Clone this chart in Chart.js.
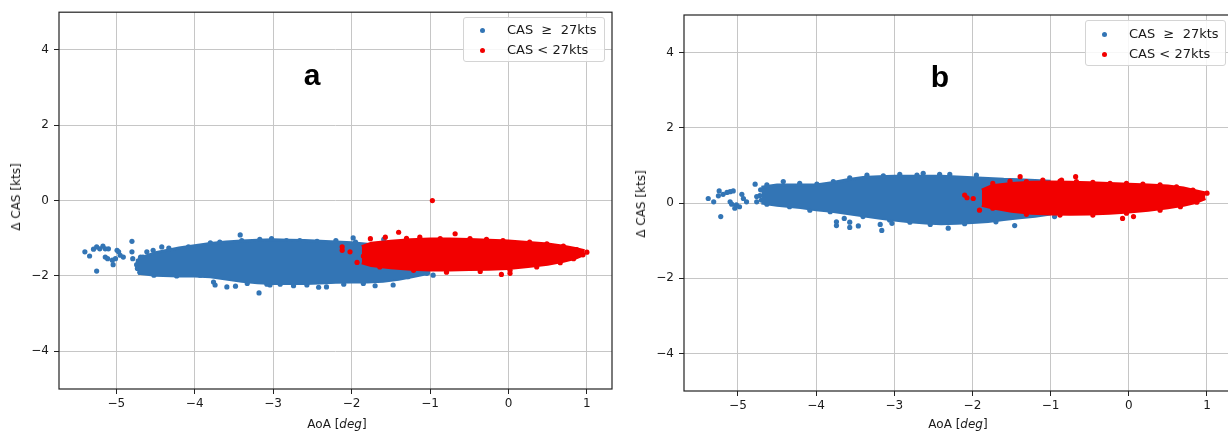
<!DOCTYPE html>
<html>
<head>
<meta charset="utf-8">
<script src="https://cdn.jsdelivr.net/npm/chart.js@4"></script>
<style>
  body { margin: 0; width: 1228px; height: 432px; overflow: hidden; background: #fff; position: relative; }
  .panel { position: absolute; top: 0; width: 620px; height: 432px; }
  .txt { position: absolute; font-family: "DejaVu Sans", sans-serif; color: #1a1a1a; white-space: nowrap; }
  .ytitle { font-size: 12px; transform: translate(-50%, -50%) rotate(-90deg); }
  .xtitle { font-size: 12px; transform: translateX(-50%); line-height: 14px; }
  .letter { font-family: "Liberation Sans", Arial, sans-serif; font-weight: bold; font-size: 30px; line-height: 30px; transform: translateX(-50%); color: #000; }
  .legend { position: absolute; border: 1px solid #d4d4d4; border-radius: 3px; background: rgba(255,255,255,0.85);
            font-family: "DejaVu Sans", sans-serif; font-size: 13px; color: #1a1a1a; box-sizing: border-box; }
  .legend div { position: absolute; left: 43px; line-height: 15px; white-space: pre; }
  .legend span { position: absolute; left: 16px; width: 5px; height: 5px; border-radius: 50%; }
</style>
</head>
<body>
<div class="panel" style="left:0"><canvas id="chartA" width="620" height="432"></canvas></div>
<div class="panel" style="left:620px"><canvas id="chartB" width="620" height="432"></canvas></div>

<div class="txt ytitle" style="left:16px; top:197px">Δ CAS [kts]</div>
<div class="txt ytitle" style="left:641px; top:204px">Δ CAS [kts]</div>
<div class="txt xtitle" style="left:337px; top:417px">AoA [<i>deg</i>]</div>
<div class="txt xtitle" style="left:958px; top:417px">AoA [<i>deg</i>]</div>
<div class="txt letter" style="left:312px; top:60px">a</div>
<div class="txt letter" style="left:940px; top:62px">b</div>

<div class="legend" style="left:463px; top:17px; width:142px; height:45px">
  <span style="top:10px; background:#3375b5"></span><div style="top:4px">CAS  ≥  27kts</div>
  <span style="top:30px; background:#f20000"></span><div style="top:24px">CAS &lt; 27kts</div>
</div>
<div class="legend" style="left:1085px; top:20px; width:141px; height:46px">
  <span style="top:11px; background:#3375b5"></span><div style="top:5px">CAS  ≥  27kts</div>
  <span style="top:31px; background:#f20000"></span><div style="top:25px">CAS &lt; 27kts</div>
</div>

<script>
// axis ticks
const xTicks = [-5, -4, -3, -2, -1, 0, 1];
const yTicks = [-4, -2, 0, 2, 4];
const seriesNames = ['CAS \u2265 27kts', 'CAS < 27kts'];

// panel a - dense cloud outlines (top / bottom edge of the point cloud)
const aBlueEdgeX = [-4.72, -4.5, -4.2, -4.0, -3.8, -3.6, -3.4, -3.2, -3.0, -2.8, -2.6, -2.4, -2.2, -2.0, -1.8, -1.6, -1.4, -1.2, -1.0];
const aBlueTop   = [-1.54, -1.38, -1.26, -1.20, -1.14, -1.10, -1.07, -1.05, -1.04, -1.05, -1.06, -1.08, -1.10, -1.12, -1.16, -1.21, -1.26, -1.36, -1.52];
const aBlueBot   = [-1.93, -1.98, -2.00, -2.00, -2.02, -2.08, -2.14, -2.18, -2.20, -2.20, -2.20, -2.19, -2.17, -2.16, -2.16, -2.14, -2.09, -2.01, -1.92];
const aRedEdgeX  = [-1.87, -1.75, -1.5, -1.25, -1.0, -0.75, -0.5, -0.25, 0.0, 0.25, 0.5, 0.7, 0.85, 0.97];
const aRedTop    = [-1.22, -1.13, -1.08, -1.04, -1.02, -1.02, -1.03, -1.05, -1.07, -1.11, -1.15, -1.21, -1.27, -1.33];
const aRedBot    = [-1.65, -1.72, -1.78, -1.82, -1.84, -1.84, -1.83, -1.82, -1.80, -1.75, -1.69, -1.61, -1.53, -1.43];

// panel a - single points (outliers and the ragged cloud edge)
const aBlueX = [-5.40, -5.34, -5.29, -5.25, -5.21, -5.17, -5.14, -5.10, -5.14, -5.11, -5.05, -5.04, -5.01, -4.99, -4.97, -4.95, -4.91,
                -4.80, -4.80, -4.79, -4.69, -4.61, -4.53, -4.42, -4.33, -5.25, -3.76, -3.74, -3.59, -3.48, -3.18, -3.04, -2.42, -2.32,
                -3.42, -3.02, -1.98, -1.59, -1.28, -1.04, -0.96, -1.47, -1.70,
                -4.08, -3.80, -3.68, -3.40, -3.17, -2.83, -2.66, -2.44, -2.20, -1.95,
                -4.52, -4.23, -3.93, -3.42, -3.33, -3.08, -2.91, -2.74, -2.57, -2.10, -1.85,
                -4.72, -4.74, -4.73, -4.70, -4.66];
const aBlueY = [-1.36, -1.47, -1.29, -1.23, -1.28, -1.21, -1.28, -1.28, -1.50, -1.54, -1.58, -1.70, -1.54, -1.32, -1.36, -1.45, -1.50,
                -1.08, -1.36, -1.54, -1.50, -1.36, -1.32, -1.23, -1.26, -1.87, -2.16, -2.24, -2.29, -2.27, -2.45, -2.24, -2.30, -2.29,
                -0.91, -1.01, -0.99, -1.03, -2.02, -1.93, -1.98, -2.24, -2.26,
                -1.23, -1.12, -1.10, -1.06, -1.03, -1.06, -1.06, -1.08, -1.06, -1.10,
                -1.98, -2.00, -1.98, -2.07, -2.20, -2.22, -2.22, -2.26, -2.24, -2.22, -2.20,
                -1.60, -1.70, -1.80, -1.90, -1.50];
const aRedX = [-1.40, -0.68, -2.12, -2.12, -2.02, -1.93, -1.85, -0.09, 0.02, -0.97,
               -1.76, -1.57, -1.30, -1.13, -0.87, -0.49, -0.28, -0.07, 0.27, 0.49, 0.70, 0.87,
               -1.64, -1.21, -0.79, -0.36, 0.02, 0.36, 0.66, 0.83, 0.95, 1.00];
const aRedY = [-0.84, -0.88, -1.23, -1.32, -1.36, -1.64, -1.47, -1.96, -1.93, 0.00,
               -1.01, -0.97, -1.00, -0.97, -1.01, -1.01, -1.03, -1.06, -1.10, -1.15, -1.21, -1.30,
               -1.76, -1.85, -1.90, -1.88, -1.85, -1.76, -1.65, -1.54, -1.44, -1.37];

// panel b - dense cloud outlines
const bBlueEdgeX = [-4.7, -4.5, -4.2, -4.0, -3.8, -3.6, -3.4, -3.2, -3.0, -2.8, -2.6, -2.4, -2.2, -2.0, -1.8, -1.6, -1.4, -1.2, -1.0];
const bBlueTop   = [0.42, 0.48, 0.48, 0.48, 0.54, 0.62, 0.68, 0.70, 0.71, 0.71, 0.71, 0.71, 0.69, 0.67, 0.65, 0.63, 0.62, 0.60, 0.58];
const bBlueBot   = [0.00, -0.06, -0.12, -0.18, -0.22, -0.28, -0.34, -0.40, -0.45, -0.50, -0.53, -0.55, -0.54, -0.52, -0.49, -0.44, -0.39, -0.35, -0.29];
const bRedEdgeX  = [-1.88, -1.75, -1.5, -1.25, -1.0, -0.75, -0.5, -0.25, 0.0, 0.25, 0.5, 0.7, 0.85, 0.98];
const bRedTop    = [0.34, 0.46, 0.52, 0.55, 0.56, 0.55, 0.54, 0.52, 0.50, 0.48, 0.45, 0.40, 0.33, 0.27];
const bRedBot    = [-0.06, -0.13, -0.22, -0.27, -0.29, -0.30, -0.29, -0.27, -0.24, -0.19, -0.13, -0.06, 0.01, 0.12];

// panel b - single points
const bBlueX = [-5.38, -5.31, -5.24, -5.25, -5.19, -5.14, -5.10, -5.06, -5.10, -5.08, -5.02, -4.98, -5.04, -4.95, -4.93, -4.89, -4.78,
                -4.76, -4.76, -5.22, -3.74, -3.74, -3.64, -3.57, -3.57, -3.46, -3.16, -3.18, -3.03, -2.31, -2.63, -2.42, -1.46, -0.95, -1.95,
                -4.63, -4.42, -4.21, -3.99, -3.78, -3.57, -3.35, -3.14, -2.93, -2.71, -2.29,
                -4.63, -4.34, -4.08, -3.82, -3.40, -3.06, -2.80, -2.54, -2.10, -1.70,
                -4.71, -4.72, -4.70];
const bBlueY = [0.12, 0.03, 0.32, 0.19, 0.23, 0.28, 0.30, 0.32, 0.03, -0.03, -0.05, -0.10, -0.14, 0.23, 0.12, 0.03, 0.50,
                0.17, 0.03, -0.36, -0.50, -0.60, -0.41, -0.51, -0.65, -0.61, -0.73, -0.57, -0.54, -0.67, 0.79, 0.76, -0.60, -0.36, 0.74,
                0.48, 0.57, 0.52, 0.50, 0.57, 0.67, 0.74, 0.72, 0.76, 0.74, 0.76,
                -0.03, -0.10, -0.19, -0.23, -0.36, -0.45, -0.51, -0.57, -0.55, -0.50,
                0.35, 0.20, 0.08];
const bRedX = [-2.10, -2.07, -1.99, -1.91, -1.39, -0.68, -0.86, -0.08, 0.06,
               -1.74, -1.52, -1.31, -1.10, -0.88, -0.67, -0.46, -0.24, -0.03, 0.18, 0.40, 0.61, 0.82,
               -1.74, -1.31, -0.88, -0.46, -0.03, 0.40, 0.66, 0.87, 1.00];
const bRedY = [0.21, 0.14, 0.12, -0.19, 0.70, 0.70, 0.61, -0.41, -0.36,
               0.52, 0.58, 0.57, 0.61, 0.58, 0.57, 0.55, 0.52, 0.52, 0.50, 0.48, 0.43, 0.34,
               -0.14, -0.30, -0.32, -0.32, -0.27, -0.19, -0.10, 0.02, 0.26];

const blue = '#3375b5';
const red = '#f20000';

function pts(xs, ys) {
  return xs.map((x, i) => ({ x: x, y: ys[i] }));
}

function cloud(xs, top, bot, color, order) {
  return [
    { label: '', data: pts(xs, top), showLine: true, fill: '+1', backgroundColor: color, borderColor: color,
      borderWidth: 3, pointRadius: 0, order: order },
    { label: '', data: pts(xs, bot), showLine: true, fill: false, borderColor: color,
      borderWidth: 3, pointRadius: 0, order: order }
  ];
}

function dots(label, xs, ys, color, order) {
  return { label: label, data: pts(xs, ys), backgroundColor: color, borderColor: color, borderWidth: 0,
           pointRadius: 2.6, order: order };
}

// black frame round the plot area
const framePlugin = {
  id: 'frame',
  afterDraw(chart) {
    const a = chart.chartArea;
    const ctx = chart.ctx;
    ctx.save();
    ctx.strokeStyle = '#222';
    ctx.lineWidth = 1.2;
    ctx.strokeRect(a.left, a.top, a.right - a.left, a.bottom - a.top);
    ctx.restore();
  }
};

function minusFmt(v) {
  return v < 0 ? '\u2212' + Math.abs(v) : String(v);
}

function makeChart(id, datasets, xMin, xMax, yAxisWidth, top, xAxisHeight) {
  const ctx = document.getElementById(id).getContext('2d');
  return new Chart(ctx, {
    type: 'scatter',
    data: { datasets: datasets },
    options: {
      responsive: false,
      animation: false,
      events: [],
      layout: { padding: { top: top, right: 8, left: 0, bottom: 0 } },
      plugins: { legend: { display: false }, tooltip: { enabled: false } },
      scales: {
        x: {
          type: 'linear', min: xMin, max: xMax,
          afterBuildTicks: s => { s.ticks = xTicks.map(v => ({ value: v })); },
          afterFit: s => { s.height = xAxisHeight; },
          grid: { color: '#c6c6c6', lineWidth: 1, tickColor: '#222', tickLength: 5 },
          border: { display: false },
          ticks: { color: '#1a1a1a', padding: 3, maxRotation: 0, font: { family: 'DejaVu Sans', size: 12 }, callback: minusFmt }
        },
        y: {
          min: -5, max: 5,
          afterBuildTicks: s => { s.ticks = yTicks.map(v => ({ value: v })); },
          afterFit: s => { s.width = yAxisWidth; },
          grid: { color: '#c6c6c6', lineWidth: 1, tickColor: '#222', tickLength: 5 },
          border: { display: false },
          ticks: { color: '#1a1a1a', padding: 5, font: { family: 'DejaVu Sans', size: 12 }, callback: minusFmt }
        }
      }
    },
    plugins: [framePlugin]
  });
}

makeChart('chartA', [
  ...cloud(aRedEdgeX, aRedTop, aRedBot, red, 0),
  dots(seriesNames[1], aRedX, aRedY, red, 0),
  ...cloud(aBlueEdgeX, aBlueTop, aBlueBot, blue, 1),
  dots(seriesNames[0], aBlueX, aBlueY, blue, 1)
], -5.73, 1.32, 59, 11, 43);

makeChart('chartB', [
  ...cloud(bRedEdgeX, bRedTop, bRedBot, red, 0),
  dots(seriesNames[1], bRedX, bRedY, red, 0),
  ...cloud(bBlueEdgeX, bBlueTop, bBlueBot, blue, 1),
  dots(seriesNames[0], bBlueX, bBlueY, blue, 1)
], -5.69, 1.32, 64, 15, 41);
</script>
</body>
</html>
